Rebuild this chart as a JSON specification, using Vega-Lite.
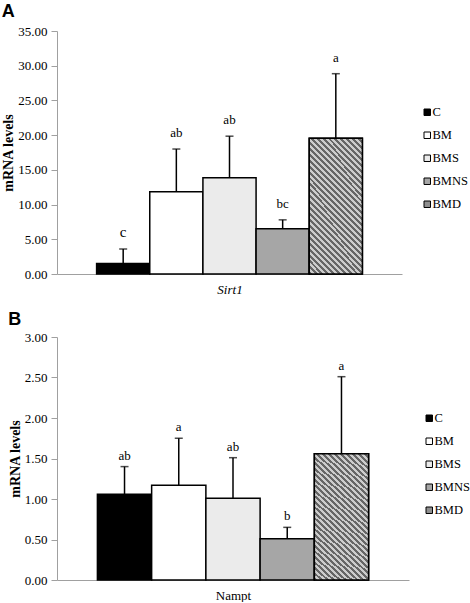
{
  "$schema": "https://vega.github.io/schema/vega-lite/v6.json",
  "padding": {"left": 1, "top": 3, "right": 0, "bottom": 0},
  "background": "white",
  "config": {
    "view": {"stroke": null},
    "font": "Liberation Serif",
    "axis": {"labelFont": "Liberation Serif", "titleFont": "Liberation Serif", "labelColor": "black", "titleColor": "black", "domainColor": "#a0a0a0", "tickColor": "#a0a0a0", "domainWidth": 1, "grid": false},
    "legend": {"title": null, "symbolType": "square", "symbolSize": 42, "symbolStrokeColor": "black", "symbolStrokeWidth": 1, "labelFont": "Liberation Serif", "labelFontSize": 12.5, "labelColor": "black", "rowPadding": 10, "labelOffset": -1, "padding": 0},
    "title": {"font": "Liberation Sans", "fontSize": 18, "fontWeight": "bold", "anchor": "start", "frame": "bounds", "color": "black"}
  },
  "datasets": {
    "sirt1": [
      {"group": "C", "value": 1.5, "upper": 3.6, "sig": "c"},
      {"group": "BM", "value": 11.85, "upper": 18.0, "sig": "ab"},
      {"group": "BMS", "value": 13.85, "upper": 19.85, "sig": "ab"},
      {"group": "BMNS", "value": 6.5, "upper": 7.8, "sig": "bc"},
      {"group": "BMD", "value": 19.55, "upper": 28.85, "sig": "a"}
    ],
    "nampt": [
      {"group": "C", "value": 1.06, "upper": 1.40, "sig": "ab"},
      {"group": "BM", "value": 1.17, "upper": 1.75, "sig": "a"},
      {"group": "BMS", "value": 1.01, "upper": 1.51, "sig": "ab"},
      {"group": "BMNS", "value": 0.51, "upper": 0.65, "sig": "b"},
      {"group": "BMD", "value": 1.56, "upper": 2.51, "sig": "a"}
    ]
  },
  "concat": [
    {
      "title": {"text": "A", "offset": 4},
      "width": 345,
      "height": 243,
      "data": {"name": "sirt1"},
      "encoding": {
        "x": {"field": "group", "type": "nominal", "sort": ["C", "BM", "BMS", "BMNS", "BMD"],
          "scale": {"paddingInner": 0, "paddingOuter": 0.745},
          "axis": {"labels": false, "ticks": false, "title": "Sirt1", "titleFont": "Liberation Serif", "titleFontStyle": "italic", "titleFontWeight": "normal", "titleFontSize": 13, "titlePadding": 9}}
      },
      "layer": [
        {
          "mark": {"type": "bar", "stroke": "black", "strokeWidth": 1.5},
          "encoding": {
            "y": {"field": "value", "type": "quantitative", "title": "mRNA levels",
              "scale": {"domain": [0, 35], "nice": false},
              "axis": {"values": [0, 5, 10, 15, 20, 25, 30, 35], "format": ".2f", "labelOverlap": false, "labelFont": "Liberation Serif", "titleFont": "Liberation Serif", "titleFontWeight": "bold", "titleFontSize": 14, "titlePadding": 2, "labelFontSize": 13, "labelPadding": 4, "tickSize": 6}},
            "fill": {"field": "group", "type": "nominal", "sort": ["C", "BM", "BMS", "BMNS", "BMD"],
              "scale": {"domain": ["C", "BM", "BMS", "BMNS", "BMD"], "range": ["#000000", "#ffffff", "#ebebeb", "#a6a6a6", "#8f8f8f"]},
              "legend": {"orient": "none", "legendX": 364, "legendY": 75, "direction": "vertical", "labelFont": "Liberation Serif", "labelFontSize": 12.5, "labelOffset": -1}}
          }
        },
        {
          "transform": [{"filter": "datum.group === 'BMD'"}],
          "mark": {"type": "bar", "stroke": "black", "strokeWidth": 1.5,
            "fill": {
              "gradient": "linear", "x1": 0, "y1": 1, "x2": 0.479, "y2": -0.207,
              "stops": [
                {"offset": 0, "color": "#666666"},
                {"offset": 0.015625, "color": "#666666"}, {"offset": 0.015625, "color": "#cccccc"},
                {"offset": 0.03125, "color": "#cccccc"}, {"offset": 0.03125, "color": "#666666"},
                {"offset": 0.046875, "color": "#666666"}, {"offset": 0.046875, "color": "#cccccc"},
                {"offset": 0.0625, "color": "#cccccc"}, {"offset": 0.0625, "color": "#666666"},
                {"offset": 0.078125, "color": "#666666"}, {"offset": 0.078125, "color": "#cccccc"},
                {"offset": 0.09375, "color": "#cccccc"}, {"offset": 0.09375, "color": "#666666"},
                {"offset": 0.109375, "color": "#666666"}, {"offset": 0.109375, "color": "#cccccc"},
                {"offset": 0.125, "color": "#cccccc"}, {"offset": 0.125, "color": "#666666"},
                {"offset": 0.140625, "color": "#666666"}, {"offset": 0.140625, "color": "#cccccc"},
                {"offset": 0.15625, "color": "#cccccc"}, {"offset": 0.15625, "color": "#666666"},
                {"offset": 0.171875, "color": "#666666"}, {"offset": 0.171875, "color": "#cccccc"},
                {"offset": 0.1875, "color": "#cccccc"}, {"offset": 0.1875, "color": "#666666"},
                {"offset": 0.203125, "color": "#666666"}, {"offset": 0.203125, "color": "#cccccc"},
                {"offset": 0.21875, "color": "#cccccc"}, {"offset": 0.21875, "color": "#666666"},
                {"offset": 0.234375, "color": "#666666"}, {"offset": 0.234375, "color": "#cccccc"},
                {"offset": 0.25, "color": "#cccccc"}, {"offset": 0.25, "color": "#666666"},
                {"offset": 0.265625, "color": "#666666"}, {"offset": 0.265625, "color": "#cccccc"},
                {"offset": 0.28125, "color": "#cccccc"}, {"offset": 0.28125, "color": "#666666"},
                {"offset": 0.296875, "color": "#666666"}, {"offset": 0.296875, "color": "#cccccc"},
                {"offset": 0.3125, "color": "#cccccc"}, {"offset": 0.3125, "color": "#666666"},
                {"offset": 0.328125, "color": "#666666"}, {"offset": 0.328125, "color": "#cccccc"},
                {"offset": 0.34375, "color": "#cccccc"}, {"offset": 0.34375, "color": "#666666"},
                {"offset": 0.359375, "color": "#666666"}, {"offset": 0.359375, "color": "#cccccc"},
                {"offset": 0.375, "color": "#cccccc"}, {"offset": 0.375, "color": "#666666"},
                {"offset": 0.390625, "color": "#666666"}, {"offset": 0.390625, "color": "#cccccc"},
                {"offset": 0.40625, "color": "#cccccc"}, {"offset": 0.40625, "color": "#666666"},
                {"offset": 0.421875, "color": "#666666"}, {"offset": 0.421875, "color": "#cccccc"},
                {"offset": 0.4375, "color": "#cccccc"}, {"offset": 0.4375, "color": "#666666"},
                {"offset": 0.453125, "color": "#666666"}, {"offset": 0.453125, "color": "#cccccc"},
                {"offset": 0.46875, "color": "#cccccc"}, {"offset": 0.46875, "color": "#666666"},
                {"offset": 0.484375, "color": "#666666"}, {"offset": 0.484375, "color": "#cccccc"},
                {"offset": 0.5, "color": "#cccccc"}, {"offset": 0.5, "color": "#666666"},
                {"offset": 0.515625, "color": "#666666"}, {"offset": 0.515625, "color": "#cccccc"},
                {"offset": 0.53125, "color": "#cccccc"}, {"offset": 0.53125, "color": "#666666"},
                {"offset": 0.546875, "color": "#666666"}, {"offset": 0.546875, "color": "#cccccc"},
                {"offset": 0.5625, "color": "#cccccc"}, {"offset": 0.5625, "color": "#666666"},
                {"offset": 0.578125, "color": "#666666"}, {"offset": 0.578125, "color": "#cccccc"},
                {"offset": 0.59375, "color": "#cccccc"}, {"offset": 0.59375, "color": "#666666"},
                {"offset": 0.609375, "color": "#666666"}, {"offset": 0.609375, "color": "#cccccc"},
                {"offset": 0.625, "color": "#cccccc"}, {"offset": 0.625, "color": "#666666"},
                {"offset": 0.640625, "color": "#666666"}, {"offset": 0.640625, "color": "#cccccc"},
                {"offset": 0.65625, "color": "#cccccc"}, {"offset": 0.65625, "color": "#666666"},
                {"offset": 0.671875, "color": "#666666"}, {"offset": 0.671875, "color": "#cccccc"},
                {"offset": 0.6875, "color": "#cccccc"}, {"offset": 0.6875, "color": "#666666"},
                {"offset": 0.703125, "color": "#666666"}, {"offset": 0.703125, "color": "#cccccc"},
                {"offset": 0.71875, "color": "#cccccc"}, {"offset": 0.71875, "color": "#666666"},
                {"offset": 0.734375, "color": "#666666"}, {"offset": 0.734375, "color": "#cccccc"},
                {"offset": 0.75, "color": "#cccccc"}, {"offset": 0.75, "color": "#666666"},
                {"offset": 0.765625, "color": "#666666"}, {"offset": 0.765625, "color": "#cccccc"},
                {"offset": 0.78125, "color": "#cccccc"}, {"offset": 0.78125, "color": "#666666"},
                {"offset": 0.796875, "color": "#666666"}, {"offset": 0.796875, "color": "#cccccc"},
                {"offset": 0.8125, "color": "#cccccc"}, {"offset": 0.8125, "color": "#666666"},
                {"offset": 0.828125, "color": "#666666"}, {"offset": 0.828125, "color": "#cccccc"},
                {"offset": 0.84375, "color": "#cccccc"}, {"offset": 0.84375, "color": "#666666"},
                {"offset": 0.859375, "color": "#666666"}, {"offset": 0.859375, "color": "#cccccc"},
                {"offset": 0.875, "color": "#cccccc"}, {"offset": 0.875, "color": "#666666"},
                {"offset": 0.890625, "color": "#666666"}, {"offset": 0.890625, "color": "#cccccc"},
                {"offset": 0.90625, "color": "#cccccc"}, {"offset": 0.90625, "color": "#666666"},
                {"offset": 0.921875, "color": "#666666"}, {"offset": 0.921875, "color": "#cccccc"},
                {"offset": 0.9375, "color": "#cccccc"}, {"offset": 0.9375, "color": "#666666"},
                {"offset": 0.953125, "color": "#666666"}, {"offset": 0.953125, "color": "#cccccc"},
                {"offset": 0.96875, "color": "#cccccc"}, {"offset": 0.96875, "color": "#666666"},
                {"offset": 0.984375, "color": "#666666"}, {"offset": 0.984375, "color": "#cccccc"},
                {"offset": 1, "color": "#cccccc"}
              ]
            }
          },
          "encoding": {"y": {"field": "value", "type": "quantitative", "title": "mRNA levels",
              "axis": {"values": [0, 5, 10, 15, 20, 25, 30, 35], "format": ".2f", "labelOverlap": false, "labelFont": "Liberation Serif", "titleFont": "Liberation Serif", "titleFontWeight": "bold", "titleFontSize": 14, "titlePadding": 2, "labelFontSize": 13, "labelPadding": 4, "tickSize": 6}}}
        },
        {
          "mark": {"type": "rule", "stroke": "black", "strokeWidth": 1.5},
          "encoding": {"y": {"field": "value", "type": "quantitative", "title": "mRNA levels",
              "axis": {"values": [0, 5, 10, 15, 20, 25, 30, 35], "format": ".2f", "labelOverlap": false, "labelFont": "Liberation Serif", "titleFont": "Liberation Serif", "titleFontWeight": "bold", "titleFontSize": 14, "titlePadding": 2, "labelFontSize": 13, "labelPadding": 4, "tickSize": 6}}, "y2": {"field": "upper"}}
        },
        {
          "mark": {"type": "tick", "orient": "horizontal", "color": "black", "thickness": 1.5, "size": 8},
          "encoding": {"y": {"field": "upper", "type": "quantitative", "title": "mRNA levels",
              "axis": {"values": [0, 5, 10, 15, 20, 25, 30, 35], "format": ".2f", "labelOverlap": false, "labelFont": "Liberation Serif", "titleFont": "Liberation Serif", "titleFontWeight": "bold", "titleFontSize": 14, "titlePadding": 2, "labelFontSize": 13, "labelPadding": 4, "tickSize": 6}}}
        },
        {
          "mark": {"type": "text", "dy": -12, "baseline": "alphabetic", "color": "black", "font": "Liberation Serif"},
          "encoding": {
            "y": {"field": "upper", "type": "quantitative", "title": "mRNA levels",
              "axis": {"values": [0, 5, 10, 15, 20, 25, 30, 35], "format": ".2f", "labelOverlap": false, "labelFont": "Liberation Serif", "titleFont": "Liberation Serif", "titleFontWeight": "bold", "titleFontSize": 14, "titlePadding": 2, "labelFontSize": 13, "labelPadding": 4, "tickSize": 6}},
            "text": {"field": "sig"},
            "size": {"condition": {"test": "datum.sig === 'c'", "value": 15}, "value": 13}
          }
        }
      ]
    },
    {
      "title": {"text": "B", "offset": 2},
      "width": 352,
      "height": 243,
      "data": {"name": "nampt"},
      "encoding": {
        "x": {"field": "group", "type": "nominal", "sort": ["C", "BM", "BMS", "BMNS", "BMD"],
          "scale": {"paddingInner": 0, "paddingOuter": 0.745},
          "axis": {"labels": false, "ticks": false, "title": "Nampt", "titleFont": "Liberation Serif", "titleFontWeight": "normal", "titleFontSize": 13, "titlePadding": 9}}
      },
      "layer": [
        {
          "mark": {"type": "bar", "stroke": "black", "strokeWidth": 1.5},
          "encoding": {
            "y": {"field": "value", "type": "quantitative", "title": "mRNA levels",
              "scale": {"domain": [0, 3], "nice": false},
              "axis": {"values": [0, 0.5, 1, 1.5, 2, 2.5, 3], "format": ".2f", "labelOverlap": false, "labelFont": "Liberation Serif", "titleFont": "Liberation Serif", "titleFontWeight": "bold", "titleFontSize": 14, "titlePadding": 2, "labelFontSize": 13, "labelPadding": 4, "tickSize": 6}},
            "fill": {"field": "group", "type": "nominal", "sort": ["C", "BM", "BMS", "BMNS", "BMD"],
              "scale": {"domain": ["C", "BM", "BMS", "BMNS", "BMD"], "range": ["#000000", "#ffffff", "#ebebeb", "#a6a6a6", "#8f8f8f"]},
              "legend": {"orient": "none", "legendX": 366, "legendY": 75, "direction": "vertical", "labelFont": "Liberation Serif", "labelFontSize": 12.5, "labelOffset": -1}}
          }
        },
        {
          "transform": [{"filter": "datum.group === 'BMD'"}],
          "mark": {"type": "bar", "stroke": "black", "strokeWidth": 1.5,
            "fill": {
              "gradient": "linear", "x1": 0, "y1": 1, "x2": 0.479, "y2": -0.207,
              "stops": [
                {"offset": 0, "color": "#666666"},
                {"offset": 0.015625, "color": "#666666"}, {"offset": 0.015625, "color": "#cccccc"},
                {"offset": 0.03125, "color": "#cccccc"}, {"offset": 0.03125, "color": "#666666"},
                {"offset": 0.046875, "color": "#666666"}, {"offset": 0.046875, "color": "#cccccc"},
                {"offset": 0.0625, "color": "#cccccc"}, {"offset": 0.0625, "color": "#666666"},
                {"offset": 0.078125, "color": "#666666"}, {"offset": 0.078125, "color": "#cccccc"},
                {"offset": 0.09375, "color": "#cccccc"}, {"offset": 0.09375, "color": "#666666"},
                {"offset": 0.109375, "color": "#666666"}, {"offset": 0.109375, "color": "#cccccc"},
                {"offset": 0.125, "color": "#cccccc"}, {"offset": 0.125, "color": "#666666"},
                {"offset": 0.140625, "color": "#666666"}, {"offset": 0.140625, "color": "#cccccc"},
                {"offset": 0.15625, "color": "#cccccc"}, {"offset": 0.15625, "color": "#666666"},
                {"offset": 0.171875, "color": "#666666"}, {"offset": 0.171875, "color": "#cccccc"},
                {"offset": 0.1875, "color": "#cccccc"}, {"offset": 0.1875, "color": "#666666"},
                {"offset": 0.203125, "color": "#666666"}, {"offset": 0.203125, "color": "#cccccc"},
                {"offset": 0.21875, "color": "#cccccc"}, {"offset": 0.21875, "color": "#666666"},
                {"offset": 0.234375, "color": "#666666"}, {"offset": 0.234375, "color": "#cccccc"},
                {"offset": 0.25, "color": "#cccccc"}, {"offset": 0.25, "color": "#666666"},
                {"offset": 0.265625, "color": "#666666"}, {"offset": 0.265625, "color": "#cccccc"},
                {"offset": 0.28125, "color": "#cccccc"}, {"offset": 0.28125, "color": "#666666"},
                {"offset": 0.296875, "color": "#666666"}, {"offset": 0.296875, "color": "#cccccc"},
                {"offset": 0.3125, "color": "#cccccc"}, {"offset": 0.3125, "color": "#666666"},
                {"offset": 0.328125, "color": "#666666"}, {"offset": 0.328125, "color": "#cccccc"},
                {"offset": 0.34375, "color": "#cccccc"}, {"offset": 0.34375, "color": "#666666"},
                {"offset": 0.359375, "color": "#666666"}, {"offset": 0.359375, "color": "#cccccc"},
                {"offset": 0.375, "color": "#cccccc"}, {"offset": 0.375, "color": "#666666"},
                {"offset": 0.390625, "color": "#666666"}, {"offset": 0.390625, "color": "#cccccc"},
                {"offset": 0.40625, "color": "#cccccc"}, {"offset": 0.40625, "color": "#666666"},
                {"offset": 0.421875, "color": "#666666"}, {"offset": 0.421875, "color": "#cccccc"},
                {"offset": 0.4375, "color": "#cccccc"}, {"offset": 0.4375, "color": "#666666"},
                {"offset": 0.453125, "color": "#666666"}, {"offset": 0.453125, "color": "#cccccc"},
                {"offset": 0.46875, "color": "#cccccc"}, {"offset": 0.46875, "color": "#666666"},
                {"offset": 0.484375, "color": "#666666"}, {"offset": 0.484375, "color": "#cccccc"},
                {"offset": 0.5, "color": "#cccccc"}, {"offset": 0.5, "color": "#666666"},
                {"offset": 0.515625, "color": "#666666"}, {"offset": 0.515625, "color": "#cccccc"},
                {"offset": 0.53125, "color": "#cccccc"}, {"offset": 0.53125, "color": "#666666"},
                {"offset": 0.546875, "color": "#666666"}, {"offset": 0.546875, "color": "#cccccc"},
                {"offset": 0.5625, "color": "#cccccc"}, {"offset": 0.5625, "color": "#666666"},
                {"offset": 0.578125, "color": "#666666"}, {"offset": 0.578125, "color": "#cccccc"},
                {"offset": 0.59375, "color": "#cccccc"}, {"offset": 0.59375, "color": "#666666"},
                {"offset": 0.609375, "color": "#666666"}, {"offset": 0.609375, "color": "#cccccc"},
                {"offset": 0.625, "color": "#cccccc"}, {"offset": 0.625, "color": "#666666"},
                {"offset": 0.640625, "color": "#666666"}, {"offset": 0.640625, "color": "#cccccc"},
                {"offset": 0.65625, "color": "#cccccc"}, {"offset": 0.65625, "color": "#666666"},
                {"offset": 0.671875, "color": "#666666"}, {"offset": 0.671875, "color": "#cccccc"},
                {"offset": 0.6875, "color": "#cccccc"}, {"offset": 0.6875, "color": "#666666"},
                {"offset": 0.703125, "color": "#666666"}, {"offset": 0.703125, "color": "#cccccc"},
                {"offset": 0.71875, "color": "#cccccc"}, {"offset": 0.71875, "color": "#666666"},
                {"offset": 0.734375, "color": "#666666"}, {"offset": 0.734375, "color": "#cccccc"},
                {"offset": 0.75, "color": "#cccccc"}, {"offset": 0.75, "color": "#666666"},
                {"offset": 0.765625, "color": "#666666"}, {"offset": 0.765625, "color": "#cccccc"},
                {"offset": 0.78125, "color": "#cccccc"}, {"offset": 0.78125, "color": "#666666"},
                {"offset": 0.796875, "color": "#666666"}, {"offset": 0.796875, "color": "#cccccc"},
                {"offset": 0.8125, "color": "#cccccc"}, {"offset": 0.8125, "color": "#666666"},
                {"offset": 0.828125, "color": "#666666"}, {"offset": 0.828125, "color": "#cccccc"},
                {"offset": 0.84375, "color": "#cccccc"}, {"offset": 0.84375, "color": "#666666"},
                {"offset": 0.859375, "color": "#666666"}, {"offset": 0.859375, "color": "#cccccc"},
                {"offset": 0.875, "color": "#cccccc"}, {"offset": 0.875, "color": "#666666"},
                {"offset": 0.890625, "color": "#666666"}, {"offset": 0.890625, "color": "#cccccc"},
                {"offset": 0.90625, "color": "#cccccc"}, {"offset": 0.90625, "color": "#666666"},
                {"offset": 0.921875, "color": "#666666"}, {"offset": 0.921875, "color": "#cccccc"},
                {"offset": 0.9375, "color": "#cccccc"}, {"offset": 0.9375, "color": "#666666"},
                {"offset": 0.953125, "color": "#666666"}, {"offset": 0.953125, "color": "#cccccc"},
                {"offset": 0.96875, "color": "#cccccc"}, {"offset": 0.96875, "color": "#666666"},
                {"offset": 0.984375, "color": "#666666"}, {"offset": 0.984375, "color": "#cccccc"},
                {"offset": 1, "color": "#cccccc"}
              ]
            }
          },
          "encoding": {"y": {"field": "value", "type": "quantitative", "title": "mRNA levels",
              "axis": {"values": [0, 0.5, 1, 1.5, 2, 2.5, 3], "format": ".2f", "labelOverlap": false, "labelFont": "Liberation Serif", "titleFont": "Liberation Serif", "titleFontWeight": "bold", "titleFontSize": 14, "titlePadding": 2, "labelFontSize": 13, "labelPadding": 4, "tickSize": 6}}}
        },
        {
          "mark": {"type": "rule", "stroke": "black", "strokeWidth": 1.5},
          "encoding": {"y": {"field": "value", "type": "quantitative", "title": "mRNA levels",
              "axis": {"values": [0, 0.5, 1, 1.5, 2, 2.5, 3], "format": ".2f", "labelOverlap": false, "labelFont": "Liberation Serif", "titleFont": "Liberation Serif", "titleFontWeight": "bold", "titleFontSize": 14, "titlePadding": 2, "labelFontSize": 13, "labelPadding": 4, "tickSize": 6}}, "y2": {"field": "upper"}}
        },
        {
          "mark": {"type": "tick", "orient": "horizontal", "color": "black", "thickness": 1.5, "size": 8},
          "encoding": {"y": {"field": "upper", "type": "quantitative", "title": "mRNA levels",
              "axis": {"values": [0, 0.5, 1, 1.5, 2, 2.5, 3], "format": ".2f", "labelOverlap": false, "labelFont": "Liberation Serif", "titleFont": "Liberation Serif", "titleFontWeight": "bold", "titleFontSize": 14, "titlePadding": 2, "labelFontSize": 13, "labelPadding": 4, "tickSize": 6}}}
        },
        {
          "mark": {"type": "text", "dy": -7, "baseline": "alphabetic", "color": "black", "font": "Liberation Serif", "fontSize": 13},
          "encoding": {
            "y": {"field": "upper", "type": "quantitative", "title": "mRNA levels",
              "axis": {"values": [0, 0.5, 1, 1.5, 2, 2.5, 3], "format": ".2f", "labelOverlap": false, "labelFont": "Liberation Serif", "titleFont": "Liberation Serif", "titleFontWeight": "bold", "titleFontSize": 14, "titlePadding": 2, "labelFontSize": 13, "labelPadding": 4, "tickSize": 6}},
            "text": {"field": "sig"}
          }
        }
      ]
    }
  ],
  "columns": 1,
  "align": "none",
  "spacing": 15,
  "resolve": {"scale": {"fill": "independent", "x": "independent", "y": "independent"}, "legend": {"fill": "independent"}}
}
